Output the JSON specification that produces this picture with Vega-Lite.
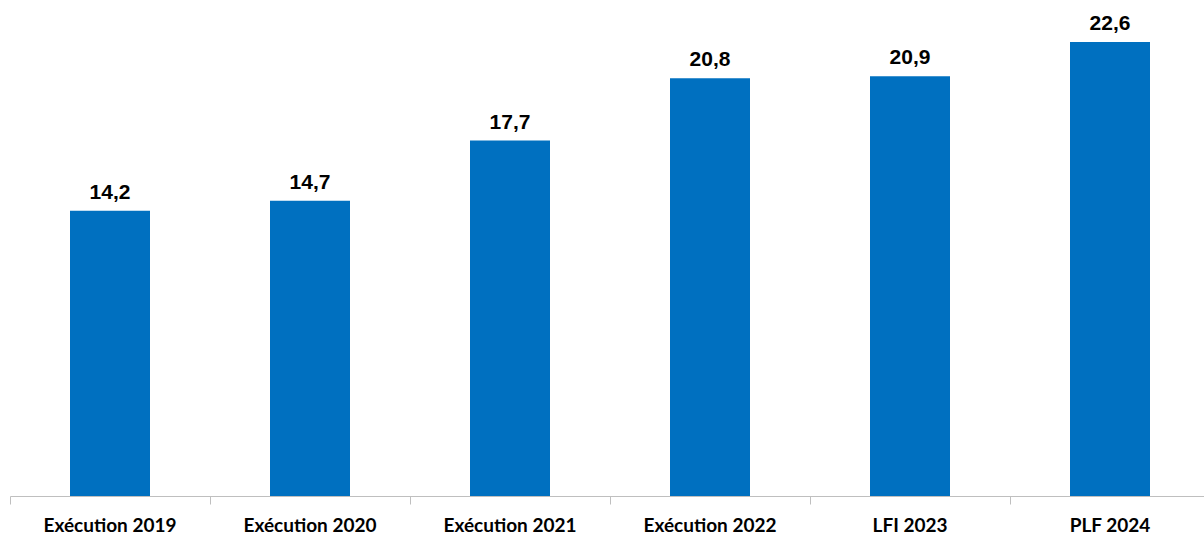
{
  "$schema": "https://vega.github.io/schema/vega-lite/v6.json",
  "autosize": "none",
  "width": 1194,
  "height": 482,
  "padding": {"left": 10, "top": 14, "right": 0, "bottom": 38},
  "background": "white",
  "data": {
    "values": [
      {"cat": "Exécution 2019", "value": 14.2, "label": "14,2"},
      {"cat": "Exécution 2020", "value": 14.7, "label": "14,7"},
      {"cat": "Exécution 2021", "value": 17.7, "label": "17,7"},
      {"cat": "Exécution 2022", "value": 20.8, "label": "20,8"},
      {"cat": "LFI 2023", "value": 20.9, "label": "20,9"},
      {"cat": "PLF 2024", "value": 22.6, "label": "22,6"}
    ]
  },
  "encoding": {
    "x": {
      "field": "cat",
      "type": "nominal",
      "sort": null,
      "scale": {"range": [0, 1200], "paddingInner": 0, "paddingOuter": 0},
      "axis": {
        "title": null,
        "labelAngle": 0,
        "labelFont": "Lato",
        "labelFontWeight": "bold",
        "labelFontSize": 19,
        "labelColor": "#000000",
        "labelPadding": 12,
        "domainColor": "#bfbfbf",
        "tickColor": "#bfbfbf",
        "tickSize": 8,
        "bandPosition": 0,
        "grid": false
      }
    },
    "y": {
      "field": "value",
      "type": "quantitative",
      "scale": {"domain": [0, 24], "nice": false},
      "axis": null
    }
  },
  "layer": [
    {
      "mark": {"type": "bar", "color": "#0070C0", "width": {"band": 0.4}}
    },
    {
      "mark": {
        "type": "text",
        "font": "Liberation Sans",
        "fontWeight": "bold",
        "fontSize": 21,
        "color": "#000000",
        "baseline": "alphabetic",
        "dy": -12
      },
      "encoding": {"text": {"field": "label"}}
    }
  ],
  "config": {"view": {"stroke": null}}
}
